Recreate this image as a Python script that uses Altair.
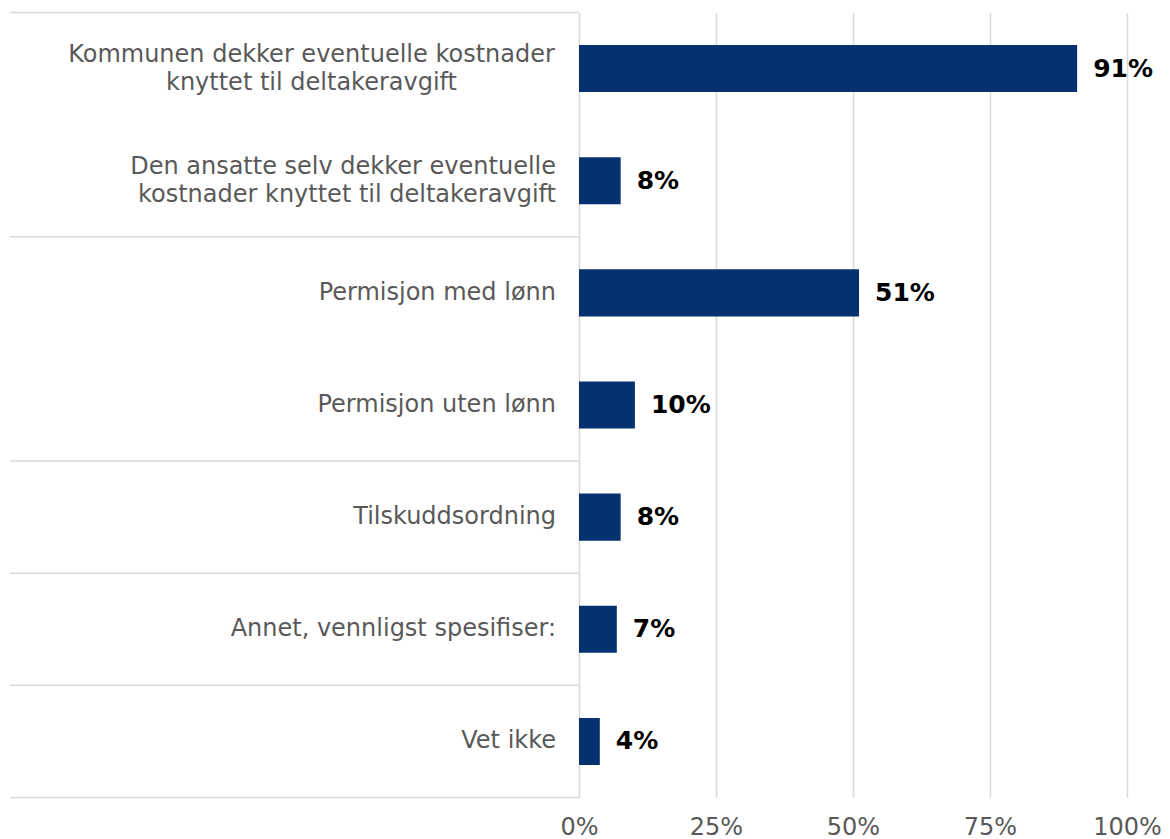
import altair as alt
import pandas as pd

# ---- data ----
categories = [
    "Kommunen dekker eventuelle kostnader knyttet til deltakeravgift",
    "Den ansatte selv dekker eventuelle kostnader knyttet til deltakeravgift",
    "Permisjon med lønn",
    "Permisjon uten lønn",
    "Tilskuddsordning",
    "Annet, vennligst spesifiser:",
    "Vet ikke",
]
label_lines = [
    ["Kommunen dekker eventuelle kostnader", "knyttet til deltakeravgift"],
    ["Den ansatte selv dekker eventuelle", "kostnader knyttet til deltakeravgift"],
    ["Permisjon med lønn"],
    ["Permisjon uten lønn"],
    ["Tilskuddsordning"],
    ["Annet, vennligst spesifiser:"],
    ["Vet ikke"],
]
values = [0.909, 0.076, 0.511, 0.102, 0.076, 0.069, 0.038]
value_labels = ["91%", "8%", "51%", "10%", "8%", "7%", "4%"]
tick_values = [0, 0.25, 0.5, 0.75, 1.0]
# category-group separators (in category steps from the top)
group_bounds = [0, 2, 4, 5, 6, 7]

FONT = "DejaVu Sans"
GREY_TXT = "#595959"
GRID = "#d9d9d9"
BAR = "#063170"

df = pd.DataFrame({
    "cat": categories,
    "lines": label_lines,
    "val": values,
    "lbl": value_labels,
})
bounds = pd.DataFrame({"b": group_bounds})

y_enc = alt.Y(
    "cat:N",
    sort=categories,
    scale=alt.Scale(paddingInner=0.58, paddingOuter=0.29),
    axis=None,
)
x_enc = alt.X(
    "val:Q",
    scale=alt.Scale(domain=[0, 1], nice=False),
    axis=alt.Axis(
        values=tick_values,
        format=".0%",
        grid=True,
        gridColor=GRID,
        gridWidth=1.5,
        ticks=False,
        domain=False,
        labelFontSize=24,
        labelColor=GREY_TXT,
        labelFont=FONT,
        labelPadding=18,
        labelFlush=False,
        title=None,
    ),
)

bars = alt.Chart(df).mark_bar(color=BAR).encode(x=x_enc, y=y_enc)

vals = alt.Chart(df).mark_text(
    align="left", baseline="middle", dx=16, font=FONT, fontSize=25,
    fontWeight="bold", color="black",
).encode(x="val:Q", y=alt.Y("cat:N", sort=categories), text="lbl:N")

y_txt = alt.Y("cat:N", sort=categories)
txt_style = dict(baseline="middle", font=FONT, fontSize=24, color=GREY_TXT, lineHeight=28)

# single-line labels, right-aligned against the axis
cat_single = alt.Chart(df.iloc[2:]).mark_text(align="right", **txt_style).encode(
    x=alt.value(-23), y=y_txt, text="lines"
)
# two-line label, right-aligned, block centred on the band
cat_two_right = alt.Chart(df.iloc[1:2]).mark_text(align="right", dy=-14, **txt_style).encode(
    x=alt.value(-23), y=y_txt, text="lines"
)
# two-line label with centred lines
cat_two_center = alt.Chart(df.iloc[:1]).mark_text(align="center", dy=-14, **txt_style).encode(
    x=alt.value(-267.5), y=y_txt, text="lines"
)

inner = alt.layer(bars, vals, cat_single, cat_two_right, cat_two_center)

rules = alt.Chart(bounds).mark_rule(color=GRID, strokeWidth=1.5).encode(
    x=alt.value(-569),
    x2=alt.value(0),
    y=alt.Y("b:Q", scale=alt.Scale(domain=[0, 7], nice=False, zero=False, reverse=True), axis=None),
)

chart = (
    alt.layer(inner, rules)
    .resolve_scale(y="independent")
    .properties(
        width=548,
        height=785,
        autosize=alt.AutoSizeParams(type="none"),
        padding={"left": 571, "top": 4.5, "right": 34, "bottom": 42},
        background="white",
    )
    .configure_view(stroke=None)
)

chart.save("out.html", embed_options={"renderer": "svg", "actions": False})
